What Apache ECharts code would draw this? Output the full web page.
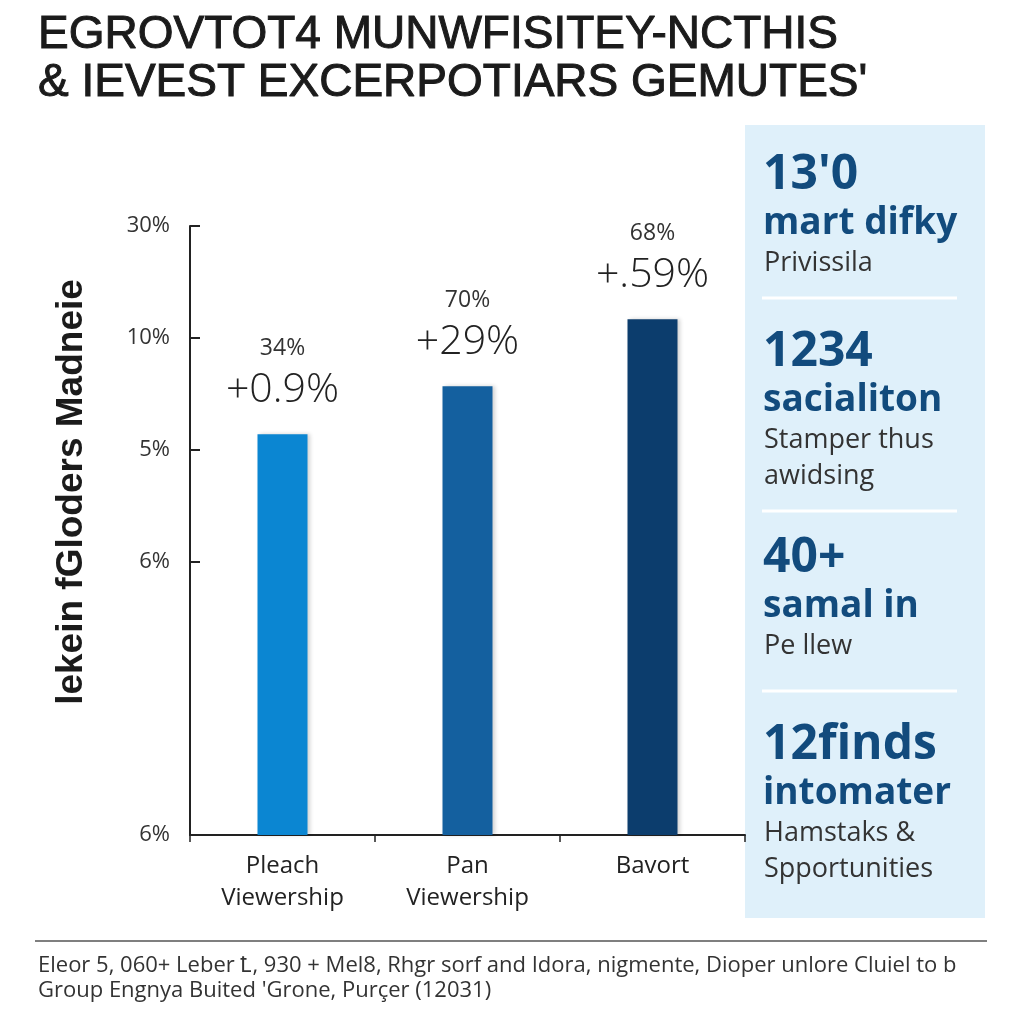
<!DOCTYPE html>
<html>
<head>
<meta charset="utf-8">
<script src="https://cdn.jsdelivr.net/npm/echarts@6/dist/echarts.min.js"></script>
<style>
  html, body { margin: 0; padding: 0; background: #fff; }
  #main { width: 1024px; height: 1024px; }
</style>
</head>
<body>
<div id="main"></div>
<script>
const titleLines = ['EGROVTOT4 MUNWFISITEY-NCTHIS', '& IEVEST EXCERPOTIARS GEMUTES\'']
const yAxisName = 'lekein fGloders Madneie'
const categories = ['Pleach\nViewership', 'Pan\nViewership', 'Bavort']
const barValues = [65.8, 73.7, 84.7]
const shareLabels = ['34%', '70%', '68%']
const changeLabels = ['+0.9%', '+29%', '+.59%']
const barColors = ['#0b86d2', '#14609f', '#0c3d6d']
const yTickValues = [0, 44.8, 63.2, 81.6, 100]
const yTickLabels = ['6%', '6%', '5%', '10%', '30%']
const panelStats = [
  ['13\'0', 'mart difky', ['Privissila']],
  ['1234', 'sacialiton', ['Stamper thus', 'awidsing']],
  ['40+', 'samal in', ['Pe llew']],
  ['12finds', 'intomater', ['Hamstaks &', 'Spportunities']]
]
const footLines = [
  'Eleor 5, 060+ Leber Ꝉ, 930 + Mel8, Rhgr sorf and Idora, nigmente, Dioper unlore Cluiel to b',
  'Group Engnya Buited \'Grone, Purçer (12031)'
]

const chart = echarts.init(document.getElementById('main'))

// right side panel text, block tops
const blockY = [175, 352, 558, 745]
const sepY = [298, 511, 691]
const panelEls = [{
  type: 'rect', z: -10,
  shape: {x: 745, y: 125, width: 240, height: 793},
  style: {fill: '#dff0fa'}
}]
sepY.forEach(y => {
  panelEls.push({
    type: 'line',
    shape: {x1: 762, y1: y, x2: 957, y2: y},
    style: {stroke: '#ffffff', lineWidth: 3}
  })
})
panelStats.forEach((blk, i) => {
  const y0 = blockY[i]
  panelEls.push({
    type: 'text', x: 763, y: y0,
    style: {text: blk[0], font: 'bold 48px "Open Sans"', fill: '#124b7d', align: 'left', verticalAlign: 'middle'}
  })
  panelEls.push({
    type: 'text', x: 763, y: y0 + 48,
    style: {text: blk[1], font: 'bold 37px "Open Sans"', fill: '#124b7d', align: 'left', verticalAlign: 'middle'}
  })
  blk[2].forEach((t, j) => {
    panelEls.push({
      type: 'text', x: 764, y: y0 + 88 + j * 36,
      style: {text: t, font: '27px "Open Sans"', fill: '#333', align: 'left', verticalAlign: 'middle'}
    })
  })
})

const otherEls = [
  {
    type: 'text', x: 72, y: 492, rotation: Math.PI / 2,
    style: {text: yAxisName, font: 'bold 37px "Liberation Sans"', fill: '#1b1b1b', align: 'center', verticalAlign: 'middle'}
  },
  {
    type: 'line',
    shape: {x1: 35, y1: 941, x2: 987, y2: 941},
    style: {stroke: '#555', lineWidth: 1.5}
  }
]
footLines.forEach((t, i) => {
  otherEls.push({
    type: 'text', x: 38, y: 966 + i * 25,
    style: {text: t, font: '22px "Open Sans"', fill: '#333', align: 'left', verticalAlign: 'middle'}
  })
})

chart.setOption({
  backgroundColor: '#ffffff',
  animation: false,
  title: {
    text: titleLines.join('\n'),
    left: 33,
    top: 6,
    textStyle: {
      fontFamily: 'Liberation Sans',
      fontSize: 46,
      lineHeight: 48,
      fontWeight: 'normal',
      color: '#1b1b1b',
      textBorderColor: '#1b1b1b',
      textBorderWidth: 1
    }
  },
  grid: {
    left: 190,
    right: 279,
    top: 226,
    bottom: 189
  },
  xAxis: {
    type: 'category',
    data: categories,
    axisLine: {lineStyle: {color: '#222', width: 2}},
    axisTick: {show: true, length: 7, lineStyle: {color: '#222', width: 1.5}},
    axisLabel: {
      fontFamily: 'Open Sans',
      fontSize: 24,
      lineHeight: 32,
      color: '#222',
      margin: 15
    }
  },
  yAxis: {
    type: 'value',
    min: 0,
    max: 100,
    splitLine: {show: false},
    axisLine: {show: true, lineStyle: {color: '#222', width: 2}},
    axisTick: {
      show: true,
      inside: true,
      length: 10,
      customValues: yTickValues,
      lineStyle: {color: '#222', width: 2}
    },
    axisLabel: {
      customValues: yTickValues,
      formatter: v => yTickLabels[yTickValues.indexOf(v)],
      fontFamily: 'Open Sans',
      fontSize: 22,
      color: '#333',
      margin: 20
    }
  },
  series: [{
    type: 'bar',
    barWidth: 50,
    data: barValues.map((v, i) => ({
      value: v,
      itemStyle: {
        color: barColors[i],
        shadowBlur: 4,
        shadowOffsetX: 2,
        shadowColor: 'rgba(0,0,0,0.18)'
      }
    })),
    label: {
      show: true,
      position: 'top',
      distance: 22,
      formatter: p => '{s|' + shareLabels[p.dataIndex] + '}\n{b|' + changeLabels[p.dataIndex] + '}',
      rich: {
        s: {fontFamily: 'Open Sans', fontSize: 23, lineHeight: 40, color: '#333'},
        b: {fontFamily: 'Open Sans', fontSize: 41, fontWeight: 300, lineHeight: 44, color: '#222'}
      }
    }
  }],
  graphic: panelEls.concat(otherEls)
})
</script>
</body>
</html>
